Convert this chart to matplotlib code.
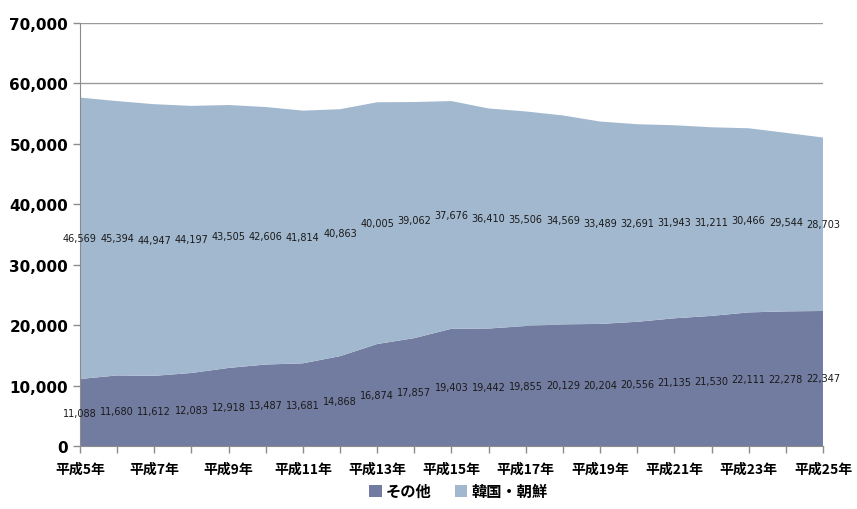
import matplotlib
matplotlib.use("Agg")
import matplotlib.pyplot as plt
from matplotlib.patches import Patch
import numpy as np

plt.rcParams['font.family'] = ['Noto Sans CJK JP', 'DejaVu Sans']

years = [f"平成{n}年" for n in range(5, 26)]
other = [11088, 11680, 11612, 12083, 12918, 13487, 13681, 14868, 16874, 17857,
         19403, 19442, 19855, 20129, 20204, 20556, 21135, 21530, 22111, 22278, 22347]
korea = [46569, 45394, 44947, 44197, 43505, 42606, 41814, 40863, 40005, 39062,
         37676, 36410, 35506, 34569, 33489, 32691, 31943, 31211, 30466, 29544, 28703]
series_names = ["その他", "韓国・朝鮮"]
colors = ["#727CA0", "#A2B8CF"]

x = np.arange(len(years))
other_a = np.array(other)
korea_a = np.array(korea)

fig = plt.figure(figsize=(8.57, 5.10), dpi=100)
ax = fig.add_axes([0.0933, 0.1235, 0.8670, 0.8295])

ax.set_axisbelow(True)
ax.yaxis.grid(True, color="#9a9a9a", linewidth=1.0)
ax.stackplot(x, other_a, korea_a, colors=colors, linewidth=0, zorder=2)

for i in range(len(x)):
    ax.text(x[i], other_a[i] / 2, f"{other[i]:,}", ha="center", va="center",
            fontsize=7, color="#1a1a1a", family="DejaVu Sans", zorder=3)
    ax.text(x[i], other_a[i] + korea_a[i] / 2, f"{korea[i]:,}", ha="center", va="center",
            fontsize=7, color="#1a1a1a", family="DejaVu Sans", zorder=3)

ax.set_xlim(0, len(x) - 1)
ax.set_ylim(0, 70000)
ax.set_yticks(np.arange(0, 70001, 10000))
ax.set_yticklabels([f"{v:,}" for v in range(0, 70001, 10000)],
                   fontsize=11, fontweight="bold", family="DejaVu Sans")
ax.set_xticks(x)
ax.set_xticklabels([y if i % 2 == 0 else "" for i, y in enumerate(years)],
                   fontsize=10, fontweight="bold")

for s in ["top", "right"]:
    ax.spines[s].set_visible(False)
for s in ["left", "bottom"]:
    ax.spines[s].set_color("#8c8c8c")
ax.tick_params(axis="both", color="#8c8c8c", length=5, width=1)
ax.tick_params(axis="x", pad=6)

handles = [Patch(facecolor=c, edgecolor="none") for c in colors]
fig.legend(handles, series_names, loc="center", bbox_to_anchor=(0.535, 0.035),
           ncol=2, frameon=False, handlelength=0.8, handleheight=0.8,
           handletextpad=0.3, columnspacing=1.5,
           prop={"family": "Noto Sans CJK JP", "weight": "bold", "size": 11})

fig.savefig("out.png", dpi=100)
